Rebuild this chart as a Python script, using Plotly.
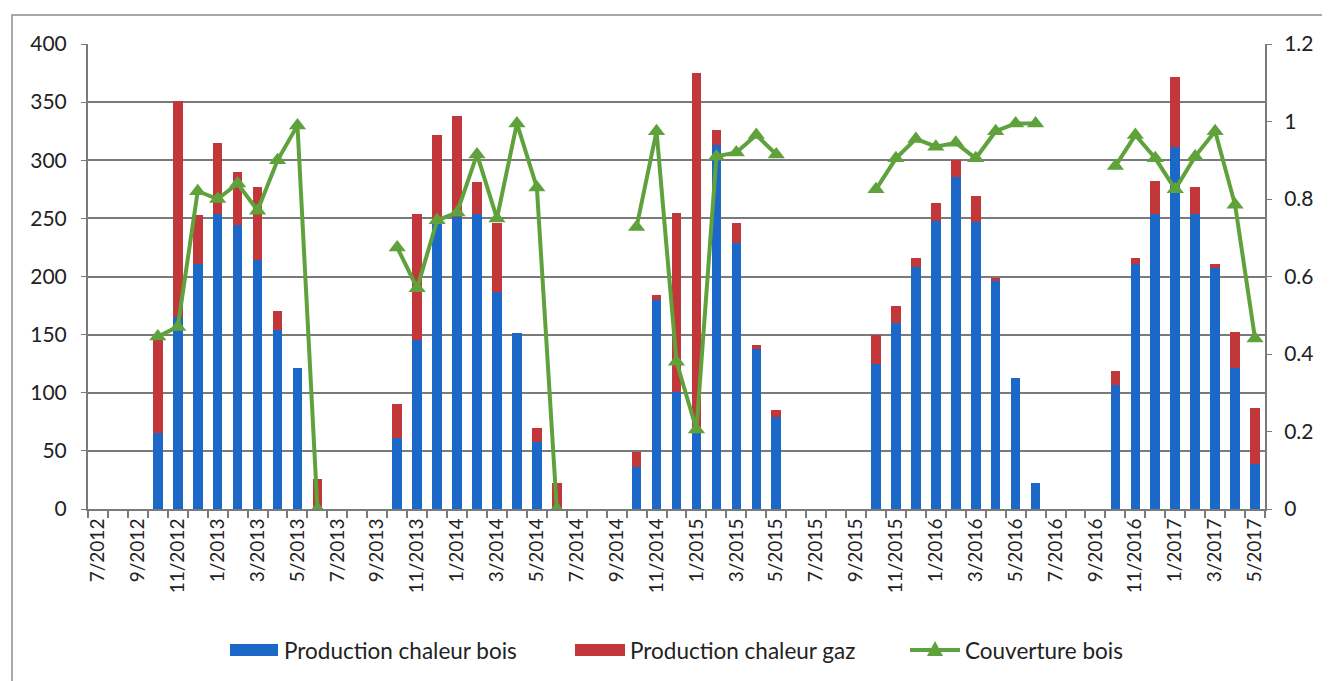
import plotly.graph_objects as go

months = ["7/2012", "8/2012", "9/2012", "10/2012", "11/2012", "12/2012",
          "1/2013", "2/2013", "3/2013", "4/2013", "5/2013", "6/2013",
          "7/2013", "8/2013", "9/2013", "10/2013", "11/2013", "12/2013",
          "1/2014", "2/2014", "3/2014", "4/2014", "5/2014", "6/2014",
          "7/2014", "8/2014", "9/2014", "10/2014", "11/2014", "12/2014",
          "1/2015", "2/2015", "3/2015", "4/2015", "5/2015", "6/2015",
          "7/2015", "8/2015", "9/2015", "10/2015", "11/2015", "12/2015",
          "1/2016", "2/2016", "3/2016", "4/2016", "5/2016", "6/2016",
          "7/2016", "8/2016", "9/2016", "10/2016", "11/2016", "12/2016",
          "1/2017", "2/2017", "3/2017", "4/2017", "5/2017"]

# tick labels shown every other month
tick_labels = ["7/2012", "", "9/2012", "", "11/2012", "",
               "1/2013", "", "3/2013", "", "5/2013", "",
               "7/2013", "", "9/2013", "", "11/2013", "",
               "1/2014", "", "3/2014", "", "5/2014", "",
               "7/2014", "", "9/2014", "", "11/2014", "",
               "1/2015", "", "3/2015", "", "5/2015", "",
               "7/2015", "", "9/2015", "", "11/2015", "",
               "1/2016", "", "3/2016", "", "5/2016", "",
               "7/2016", "", "9/2016", "", "11/2016", "",
               "1/2017", "", "3/2017", "", "5/2017"]

bois = [None, None, None, 65, 165, 211,
        254, 244, 214, 154, 121, 0,
        None, None, None, 61, 145, 246,
        251, 254, 187, 151, 58, 0,
        None, None, None, 36, 180, 101,
        65, 313, 229, 138, 79, None,
        None, None, None, 125, 160, 208,
        248, 286, 247, 196, 113, 22,
        None, None, None, 107, 211, 254,
        311, 254, 207, 121, 39]

gaz = [None, None, None, 80, 186, 42,
       61, 46, 63, 16, 0, 26,
       None, None, None, 29, 109, 76,
       87, 27, 59, 0, 12, 22,
       None, None, None, 13, 4, 154,
       310, 13, 17, 3, 6, None,
       None, None, None, 25, 15, 8,
       15, 14, 22, 3, 0, 0,
       None, None, None, 12, 5, 28,
       61, 23, 4, 31, 48]

couverture = [None, None, None, 0.445, 0.47, 0.82,
              0.80, 0.84, 0.77, 0.90, 0.99, 0.0,
              None, None, None, 0.675, 0.57, 0.745,
              0.765, 0.915, 0.75, 0.995, 0.83, 0.0,
              None, None, None, 0.728, 0.975, 0.38,
              0.205, 0.91, 0.92, 0.965, 0.915, None,
              None, None, None, 0.825, 0.905, 0.955,
              0.935, 0.945, 0.905, 0.975, 0.995, 0.995,
              None, None, None, 0.885, 0.965, 0.905,
              0.825, 0.91, 0.975, 0.785, 0.44]

series_names = ["Production chaleur bois", "Production chaleur gaz", "Couverture bois"]

BLUE = "#1c68c9"
RED = "#c2373a"
GREEN = "#5fa23c"
GRID = "#7a7a7a"
TXT = "#222222"
FONT = "Lato"

fig = go.Figure()
fig.add_trace(go.Bar(x=months, y=bois, name=series_names[0],
                     marker=dict(color=BLUE, line=dict(width=0))))
fig.add_trace(go.Bar(x=months, y=gaz, name=series_names[1],
                     marker=dict(color=RED, line=dict(width=0))))
fig.add_trace(go.Scatter(x=months, y=couverture, name=series_names[2],
                         yaxis="y2", mode="lines+markers",
                         connectgaps=False,
                         line=dict(color=GREEN, width=4),
                         marker=dict(symbol="triangle-up", size=15, color=GREEN)))

# page has an 8px body margin; figure sized to fit the window
OFF = 8
W, H = 1322, 673
L, T = 88 - OFF, 44 - OFF
R = W - (1265 - OFF)
B = H - (509 - OFF)
pw = W - L - R
ph = H - T - B


def px(xp):
    return (xp - OFF - L) / pw


def py(yp):
    return (H - B - (yp - OFF)) / ph


fig.update_layout(
    width=W, height=H,
    margin=dict(l=L, r=R, t=T, b=B, autoexpand=False),
    barmode="stack",
    bargap=0.52,
    paper_bgcolor="white",
    plot_bgcolor="white",
    font=dict(family=FONT, size=19, color=TXT),
    showlegend=False,
    xaxis=dict(type="category", categoryorder="array", categoryarray=months,
               tickmode="array", tickvals=months, ticktext=tick_labels,
               tickangle=-90, tickson="boundaries", ticks="outside",
               ticklen=7, tickcolor=GRID, tickwidth=1.5,
               showline=True, linecolor=GRID, linewidth=2,
               showgrid=False, range=[-0.5, len(months) - 0.5],
               tickfont=dict(family=FONT, size=19, color=TXT)),
    yaxis=dict(range=[0, 400], dtick=50, tick0=0, showgrid=True,
               gridcolor=GRID, gridwidth=2, zeroline=False,
               showline=True, linecolor=GRID, linewidth=2,
               ticks="outside", ticklen=5, tickcolor=GRID,
               ticklabelstandoff=10,
               tickfont=dict(family=FONT, size=21, color=TXT)),
    yaxis2=dict(range=[0, 1.2], dtick=0.2, tick0=0, overlaying="y", side="right",
                showgrid=False, zeroline=False,
                showline=True, linecolor=GRID, linewidth=2,
                ticks="outside", ticklen=5, tickcolor=GRID,
                ticklabelstandoff=8,
                tickfont=dict(family=FONT, size=21, color=TXT)),
)

# outer chart frame
fig.add_shape(type="rect", xref="paper", yref="paper",
              x0=px(12), x1=px(1360), y0=py(720), y1=py(15),
              line=dict(color="#8c8c8c", width=1.5), fillcolor="rgba(0,0,0,0)",
              layer="below")

# custom legend (wide swatches like the original)
LEG_Y = 650
legend_items = [
    ("bar", BLUE, 230, 278, 282),
    ("bar", RED, 575, 625, 628),
    ("line", GREEN, 910, 960, 963),
]
for (kind, color, xa, xb, xt), name in zip(legend_items, series_names):
    if kind == "bar":
        fig.add_shape(type="rect", xref="paper", yref="paper",
                      x0=px(xa), x1=px(xb), y0=py(LEG_Y + 6), y1=py(LEG_Y - 6),
                      line=dict(width=0), fillcolor=color)
    else:
        fig.add_shape(type="line", xref="paper", yref="paper",
                      x0=px(xa), x1=px(xb), y0=py(LEG_Y), y1=py(LEG_Y),
                      line=dict(color=color, width=4))
        xm = (xa + xb) / 2
        path = "M {:.5f},{:.5f} L {:.5f},{:.5f} L {:.5f},{:.5f} Z".format(
            px(xm - 8), py(LEG_Y + 6), px(xm + 8), py(LEG_Y + 6), px(xm), py(LEG_Y - 9))
        fig.add_shape(type="path", xref="paper", yref="paper", path=path,
                      line=dict(width=0), fillcolor=color)
    fig.add_annotation(xref="paper", yref="paper", x=px(xt), y=py(LEG_Y),
                       xanchor="left", yanchor="middle", showarrow=False,
                       text=name, font=dict(family=FONT, size=22.5, color=TXT))

fig.write_html("out.html")
